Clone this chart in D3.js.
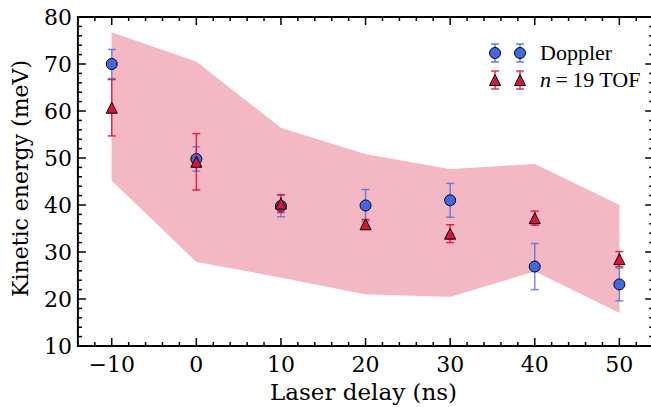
<!DOCTYPE html>
<html><head><meta charset="utf-8">
<script src="https://cdn.jsdelivr.net/npm/d3@7"></script>
<style>
body{margin:0;background:#fff;}
svg{display:block;font-family:"DejaVu Serif",serif;}
</style></head>
<body>
<svg id="c" width="651" height="407"></svg>
<script>
// ---- data ----
const delays = [-10, 0, 10, 20, 30, 40, 50];
const dopplerValues = [70.0, 49.8, 39.8, 39.9, 41.0, 26.9, 23.1];
const dopplerErrors = [3.1, 2.6, 2.3, 3.4, 3.6, 4.9, 3.5];
const tofValues = [60.7, 49.2, 40.3, 35.9, 33.9, 37.2, 28.5];
const tofErrors = [6.0, 6.0, 1.9, 1.0, 1.9, 1.5, 1.6];
const bandUpper = [76.7, 70.5, 56.4, 50.8, 47.6, 48.7, 40.0];
const bandLower = [45.2, 27.9, 24.6, 21.0, 20.5, 25.9, 17.1];
const xTicks = [-10, 0, 10, 20, 30, 40, 50];
const yTicks = [10, 20, 30, 40, 50, 60, 70, 80];
const seriesNames = ["Doppler", "n = 19 TOF"];

const svg = d3.select("#c");
const x = d3.scaleLinear().domain([-14, 54]).range([77.9, 653.2]);
const y = d3.scaleLinear().domain([10, 80]).range([346, 17]);
const L = 77.9, R = 653.2, T = 17, B = 346;

// band
const band = d3.area()
  .x((d, i) => x(delays[i]))
  .y0((d, i) => y(bandLower[i]))
  .y1((d, i) => y(bandUpper[i]));
svg.append("path").datum(delays).attr("d", band)
  .attr("fill", "crimson").attr("fill-opacity", 0.3)
  .attr("stroke", "crimson").attr("stroke-opacity", 0.05).attr("stroke-width", 1);

function errorbars(vals, errs, color, op) {
  const g = svg.append("g").attr("stroke", color).attr("stroke-opacity", op).attr("stroke-width", 1.5);
  delays.forEach((d, i) => {
    const cx = x(d), y1 = y(vals[i] + errs[i]), y2 = y(vals[i] - errs[i]);
    g.append("line").attr("x1", cx).attr("x2", cx).attr("y1", y1).attr("y2", y2);
    g.append("line").attr("x1", cx - 4).attr("x2", cx + 4).attr("y1", y1).attr("y2", y1);
    g.append("line").attr("x1", cx - 4).attr("x2", cx + 4).attr("y1", y2).attr("y2", y2);
  });
}
const circ = d3.symbol().type(d3.symbolCircle).size(Math.PI * 5.5 * 5.5);
const tri = (cx, cy, s) => `M${cx},${cy - s}L${cx + s},${cy + s}L${cx - s},${cy + s}Z`;

errorbars(dopplerValues, dopplerErrors, "royalblue", 0.75);
svg.append("g").selectAll("path").data(delays).join("path")
  .attr("d", circ).attr("transform", (d, i) => `translate(${x(d)},${y(dopplerValues[i])})`)
  .attr("fill", "royalblue").attr("stroke", "#000").attr("stroke-width", 1);

errorbars(tofValues, tofErrors, "crimson", 0.9);
svg.append("g").selectAll("path").data(delays).join("path")
  .attr("d", (d, i) => tri(x(d), y(tofValues[i]), 5.5))
  .attr("fill", "crimson").attr("stroke", "#000").attr("stroke-width", 1);

// frame
svg.append("rect").attr("x", L).attr("y", T).attr("width", R - L).attr("height", B - T)
  .attr("fill", "none").attr("stroke", "#000").attr("stroke-width", 2);

// ticks inward on all sides
const tg = svg.append("g").attr("stroke", "#000").attr("stroke-width", 1.5);
const xMinor = d3.range(-14, 54.01, 2);
const yMinor = d3.range(10, 80.01, 2);
xMinor.forEach(v => {
  const major = xTicks.includes(v);
  const len = major ? 8 : 4;
  tg.append("line").attr("x1", x(v)).attr("x2", x(v)).attr("y1", B).attr("y2", B - len);
  tg.append("line").attr("x1", x(v)).attr("x2", x(v)).attr("y1", T).attr("y2", T + len);
});
yMinor.forEach(v => {
  const major = yTicks.includes(v);
  const len = major ? 8 : 4;
  tg.append("line").attr("x1", L).attr("x2", L + len).attr("y1", y(v)).attr("y2", y(v));
  tg.append("line").attr("x1", R).attr("x2", R - len).attr("y1", y(v)).attr("y2", y(v));
});

// tick labels
const fmt = v => v < 0 ? "\u2212" + Math.abs(v) : String(v);
svg.append("g").selectAll("text").data(xTicks).join("text")
  .attr("x", d => x(d)).attr("y", B + 26).attr("text-anchor", "middle")
  .attr("font-size", 22).text(fmt);
svg.append("g").selectAll("text").data(yTicks).join("text")
  .attr("x", L - 6).attr("y", d => y(d) + 8).attr("text-anchor", "end")
  .attr("font-size", 22).text(fmt);

// axis labels
svg.append("text").attr("x", (L + R) / 2 - 2).attr("y", 399.5).attr("text-anchor", "middle")
  .attr("font-size", 23).text("Laser delay (ns)");
svg.append("text").attr("transform", `translate(28,${(T + B) / 2 - 3}) rotate(-90)`)
  .attr("text-anchor", "middle").attr("font-size", 22).text("Kinetic energy (meV)");

// legend
const lg = svg.append("g");
const rows = [53, 80];
[0, 1].forEach(r => {
  const cy = rows[r];
  const col = r === 0 ? "royalblue" : "crimson";
  [495, 520].forEach(cx => {
    const g = lg.append("g").attr("stroke", col).attr("stroke-width", 1.5).attr("stroke-opacity", 0.85);
    g.append("line").attr("x1", cx).attr("x2", cx).attr("y1", cy - 9).attr("y2", cy + 9);
    g.append("line").attr("x1", cx - 4).attr("x2", cx + 4).attr("y1", cy - 9).attr("y2", cy - 9);
    g.append("line").attr("x1", cx - 4).attr("x2", cx + 4).attr("y1", cy + 9).attr("y2", cy + 9);
    if (r === 0) {
      lg.append("path").attr("d", circ).attr("transform", `translate(${cx},${cy})`)
        .attr("fill", col).attr("stroke", "#000").attr("stroke-width", 1);
    } else {
      lg.append("path").attr("d", tri(cx, cy, 5.5)).attr("fill", col).attr("stroke", "#000").attr("stroke-width", 1);
    }
  });
});
lg.append("text").attr("x", 540).attr("y", rows[0] + 7).attr("font-family", "Liberation Serif")
  .attr("font-size", 22).text(seriesNames[0]);
const t2 = lg.append("text").attr("x", 540).attr("y", rows[1] + 7)
  .attr("font-family", "Liberation Serif").attr("font-size", 22);
t2.append("tspan").attr("font-style", "italic").text("n");
t2.append("tspan").text("\u2009=\u200919 TOF");
</script>
</body></html>
